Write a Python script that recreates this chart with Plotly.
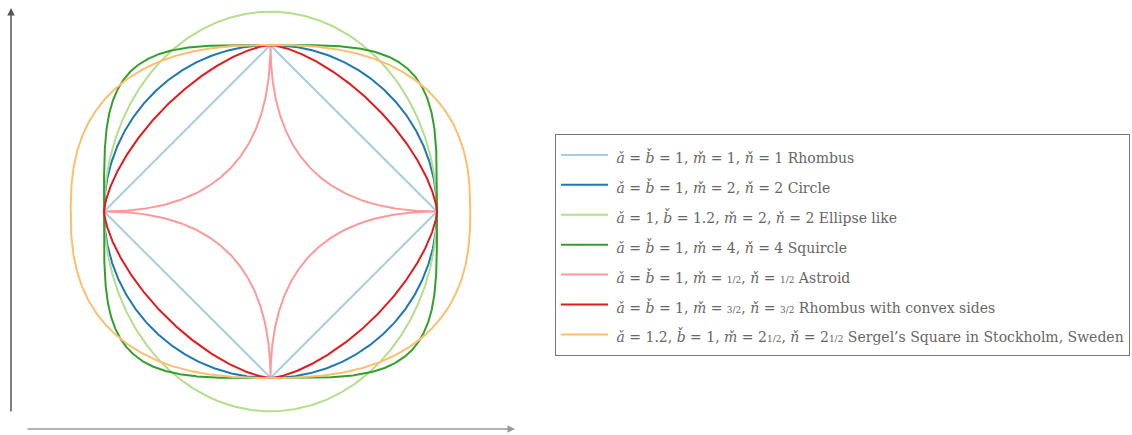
import numpy as np
import plotly.graph_objects as go

# Superellipse parameters: |x/a|^m + |y/b|^n = 1
names = ["Rhombus", "Circle", "Ellipse like", "Squircle", "Astroid",
         "Rhombus with convex sides", "Sergel\u2019s Square in Stockholm, Sweden"]
a_vals = [1, 1, 1, 1, 1, 1, 1.2]
b_vals = [1, 1, 1.2, 1, 1, 1, 1]
m_vals = [1, 2, 2, 4, 0.5, 1.5, 2.5]
n_vals = [1, 2, 2, 4, 0.5, 1.5, 2.5]
colors = ["#a6cee3", "#1f78b4", "#b2df8a", "#33a02c", "#fb9a99", "#e31a1c", "#fdbf6f"]

HA = "<i>\u01ce</i>"          # a caron
HB = "<i>b\u030c</i>"         # b caron
HM = "<i>m\u030c</i>"         # m caron
HN = "<i>\u0148</i>"          # n caron


def frac(whole, num):
    small = "<span style='font-size:9px'>%d/2</span>" % num
    return (str(whole) if whole else "") + small


exp_labels = ["1", "2", "2", "4", frac(0, 1), frac(0, 3), frac(2, 1)]
a_labels = ["1", "1", "1", "1", "1", "1", "1.2"]
b_labels = ["1", "1", "1.2", "1", "1", "1", "1"]


def label(i):
    if a_labels[i] == b_labels[i]:
        head = f"{HA} = {HB} = {a_labels[i]}"
    else:
        head = f"{HA} = {a_labels[i]}, {HB} = {b_labels[i]}"
    e = exp_labels[i]
    body = f"{head}, {HM} = {e}, {HN} = {e} {names[i]}"
    return f"<span style='font-size:14px'>\u2005{body}</span>"


t = np.linspace(0, 2 * np.pi, 1441)
c, s = np.cos(t), np.sin(t)

fig = go.Figure()
for i in range(len(names)):
    x = a_vals[i] * np.sign(c) * np.abs(c) ** (2 / m_vals[i])
    y = b_vals[i] * np.sign(s) * np.abs(s) ** (2 / n_vals[i])
    fig.add_trace(go.Scatter(
        x=x, y=y, mode="lines", name=label(i), legendgroup=f"g{i}",
        line=dict(color=colors[i], width=2), hoverinfo="skip"))

W, H = 1132, 435
fig.update_layout(
    width=W, height=H,
    margin=dict(l=0, r=0, t=0, b=0),
    paper_bgcolor="white", plot_bgcolor="white",
    font=dict(family="DejaVu Serif", size=14, color="#666666"),
    xaxis=dict(domain=[11 / W, 515 / W], range=[-1.5586, 1.4685],
               visible=False, fixedrange=True),
    yaxis=dict(domain=[6 / H, 427 / H], range=[-1.3063, 1.2222],
               visible=False, fixedrange=True),
    showlegend=True,
    legend=dict(x=555 / W, y=1 - 134 / H, xanchor="left", yanchor="top",
                bordercolor="#777777", borderwidth=1, bgcolor="white",
                tracegroupgap=0, itemwidth=47,
                font=dict(family="DejaVu Serif", size=20.7, color="#666666")),
    annotations=[
        dict(x=11 / W, y=1 - 8 / H, xref="paper", yref="paper", text="",
             showarrow=True, ax=0, ay=405, arrowhead=2, arrowsize=1,
             arrowwidth=1.5, arrowcolor="#555555"),
        dict(x=515 / W, y=1 - 429 / H, xref="paper", yref="paper", text="",
             showarrow=True, ax=-489, ay=0, arrowhead=2, arrowsize=1,
             arrowwidth=1.5, arrowcolor="#999999"),
    ],
)

fig.write_html("out.html")
